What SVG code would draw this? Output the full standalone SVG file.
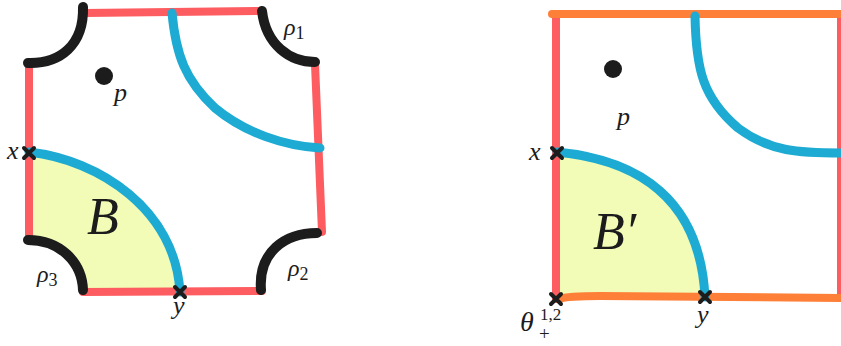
<svg xmlns="http://www.w3.org/2000/svg" width="841" height="346" viewBox="0 0 841 346">
<style>
.red{fill:none;stroke:#FD5C60;stroke-width:8;stroke-linecap:round;stroke-linejoin:round}
.org{fill:none;stroke:#FE7F37;stroke-width:8;stroke-linecap:round}
.blk{fill:none;stroke:#1C1C1C;stroke-width:10;stroke-linecap:round}
.blu{fill:none;stroke:#1DABD3;stroke-width:9;stroke-linecap:round}
.yel{fill:#F2FCB6;stroke:none}
.mk{fill:none;stroke:#1C1C1C;stroke-width:4;stroke-linecap:round}
.m{font-family:"Liberation Serif","Times New Roman",serif;font-style:italic;fill:#1C1C1C}
.n{font-family:"Liberation Serif","Times New Roman",serif;font-style:normal;fill:#1C1C1C}
</style>
<defs>
<g id="xm"><path class="mk" d="M-5,-5L5,5M5,-5L-5,5"/></g>
</defs>
<g id="left">
<path class="yel" d="M29,153 C100,160 175,210 180,292 L83,292 C83,260 60,240 28,240 Z"/>
<path class="red" d="M85,13 L262,11"/>
<path class="red" d="M29,63 L29,238"/>
<path class="red" d="M83,292 L262,291"/>
<path class="red" d="M315,64 L322,232"/>
<path class="blk" d="M83,7 C84,45 60,64 28,63"/>
<path class="blk" d="M262,11 C266,45 290,62 315,62"/>
<path class="blk" d="M261,290 C258,252 285,233 317,233"/>
<path class="blk" d="M28,240 C60,240 82,262 83,290"/>
<path class="blu" d="M172,13 C176,55 185,80 215,108 C245,133 285,146 320,148"/>
<path class="blu" d="M29,152 C100,160 175,210 180,292"/>
<circle cx="104" cy="76" r="9" fill="#1C1C1C"/>
<use href="#xm" x="29" y="153"/>
<use href="#xm" x="180" y="292"/>
<text class="m" x="114" y="101" font-size="26">p</text>
<text class="m" x="7" y="159" font-size="26">x</text>
<text class="m" x="173" y="314" font-size="26">y</text>
<text class="m" x="87" y="234" font-size="52">B</text>
<text class="m" x="284" y="35" font-size="24">ρ<tspan class="n" font-size="18" dy="4">1</tspan></text>
<text class="m" x="288" y="276" font-size="24">ρ<tspan class="n" font-size="18" dy="4">2</tspan></text>
<text class="m" x="37" y="282" font-size="24">ρ<tspan class="n" font-size="18" dy="4">3</tspan></text>
</g>
<g id="right">
<path class="yel" d="M557,153 C640,160 700,200 705,297 L557,299 Z"/>
<path class="red" d="M556,16 L556,299"/>
<path d="M839,14 L839,298" fill="none" stroke="#FD5C60" stroke-width="4"/>
<path class="org" d="M552,14 L841,14"/>
<path class="org" d="M558,299 C565,297 575,296 600,296 L841,298"/>
<path class="blu" d="M695,16 C696,70 703,98 738,128 C770,152 800,153 841,153"/>
<path class="blu" d="M557,152 C640,160 700,200 705,297"/>
<circle cx="613" cy="69" r="9" fill="#1C1C1C"/>
<use href="#xm" x="557" y="153"/>
<use href="#xm" x="705" y="297"/>
<use href="#xm" x="556" y="299"/>
<text class="m" x="617" y="125" font-size="26">p</text>
<text class="m" x="529" y="160" font-size="26">x</text>
<text class="m" x="697" y="323" font-size="26">y</text>
<text class="m" x="593" y="249" font-size="52">B′</text>
<text class="m" x="520" y="331" font-size="28">θ</text>
<text class="n" x="540" y="320" font-size="17">1,2</text>
<text class="n" x="539" y="340" font-size="19">+</text>
</g>
</svg>
